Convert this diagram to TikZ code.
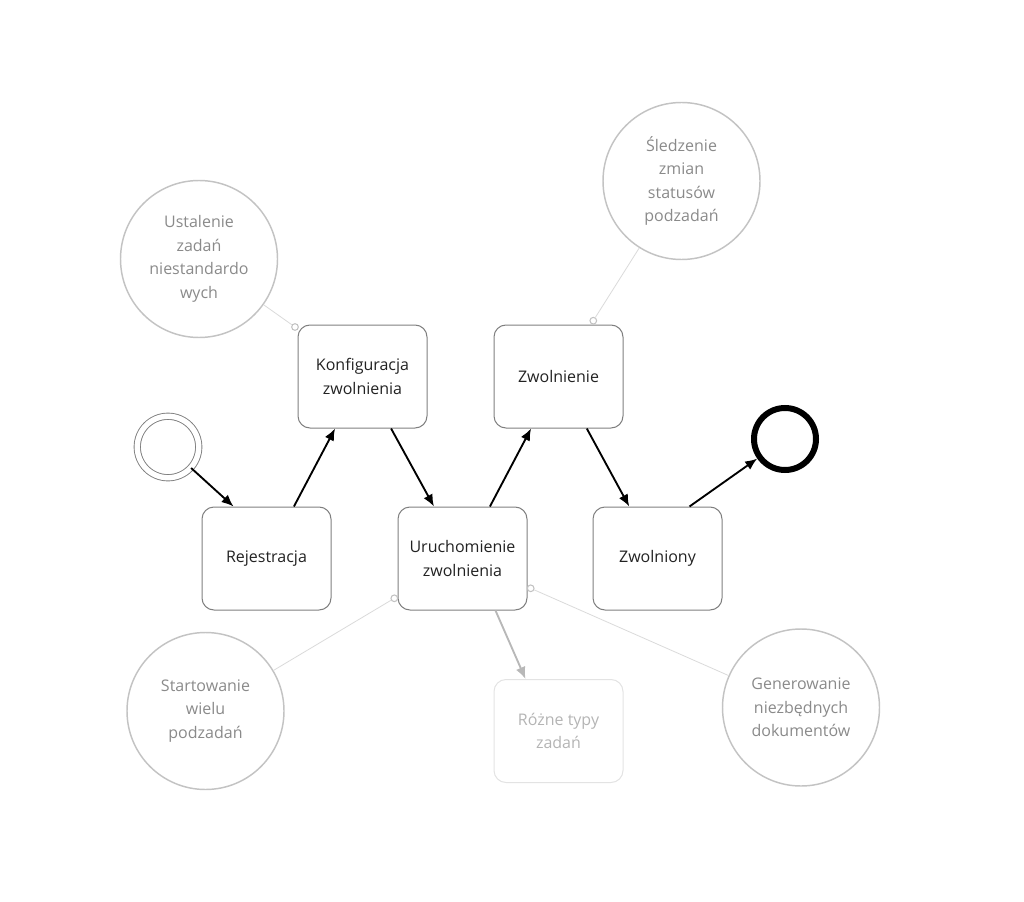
\documentclass[tikz,border=0pt]{standalone}
\usepackage{fontspec}
\setmainfont{Open Sans}
\usepackage{tikz}
\usetikzlibrary{arrows.meta}
\definecolor{tasktext}{HTML}{222222}
\definecolor{boxgray}{HTML}{7F7F7F}
\definecolor{notegray}{HTML}{C3C3C3}
\definecolor{notetext}{HTML}{8A8A8A}
\definecolor{linegray}{HTML}{DADADA}
\definecolor{ghostgray}{HTML}{E3E3E3}
\definecolor{ghosttext}{HTML}{B4B4B4}
\definecolor{ghostarrow}{HTML}{B8B8B8}
\tikzset{
    task/.style={draw=boxgray, line width=0.75pt, rounded corners=9pt, minimum width=96.75pt, minimum height=77.25pt, align=center, text=tasktext, font=\fontsize{12}{17.5}\selectfont},
    ghosttask/.style={task, draw=ghostgray, text=ghosttext},
    note/.style={circle, draw=notegray, line width=1.1pt, minimum size=117.75pt, inner sep=0pt, align=center, text=notetext, font=\fontsize{12}{17.6}\selectfont},
    notedot/.style={circle, draw=notegray, fill=white, line width=0.8pt, inner sep=0pt, minimum size=5pt},
    noteline/.style={draw=linegray, line width=0.6pt},
    flow/.style={-{Latex[length=9pt, width=7.5pt]}, line width=1.4pt},
    startevent/.style={circle, draw=boxgray, line width=0.7pt, double, double distance=4pt, minimum size=46.1pt, inner sep=0pt},
    endevent/.style={circle, draw=black, line width=4.5pt, minimum size=46.5pt, inner sep=0pt}
}

\begin{document}
\begin{tikzpicture}[x=0.75pt, y=-0.75pt]
    \useasboundingbox (0,0) rectangle (1024,902);

    % events
    \node[startevent] (start) at (168,447) {};
    \node[endevent] (stop) at (785,439) {};

    % tasks
    \node[task] (rej)   at (266.5,558.5) {Rejestracja};
    \node[task] (konf)  at (362.5,376.5) {Konfiguracja\\zwolnienia};
    \node[task] (uruch) at (462.5,558.5) {Uruchomienie\\zwolnienia};
    \node[task] (zwol)  at (558.5,376.5) {Zwolnienie};
    \node[task] (zwny)  at (657.5,558.5) {Zwolniony};
    \node[ghosttask] (typy) at (558.5,731) {Różne typy\\zadań};

    % sequence flow
    \draw[flow] (start) -- ([xshift=-24.75pt]rej.north);
    \draw[flow] (rej) -- (konf);
    \draw[flow] (konf) -- (uruch);
    \draw[flow] (uruch) -- (zwol);
    \draw[flow] (zwol) -- (zwny);
    \draw[flow] ([xshift=24pt]zwny.north) -- (stop);
    \draw[flow, draw=ghostarrow, fill=ghostarrow] ([xshift=24.75pt]uruch.south) -- ([xshift=-24.75pt]typy.north);

    % annotations
    \node[note] (ustal) at (199,259) {Ustalenie\\zadań\\niestandardo\\wych};
    \node[note] (sledz) at (681.5,181) {Śledzenie\\zmian\\statusów\\podzadań};
    \node[note] (start2) at (205.5,711) {Startowanie\\wielu\\podzadań};
    \node[note] (gener) at (801,707.5) {Generowanie\\niezbędnych\\dokumentów};

    \node[notedot] (d1) at (295,327) {};
    \node[notedot] (d2) at (593.3,320.7) {};
    \node[notedot] (d3) at (394.3,598.3) {};
    \node[notedot] (d4) at (530.7,588.3) {};

    \draw[noteline] (ustal) -- (d1);
    \draw[noteline] (sledz) -- (d2);
    \draw[noteline] (start2) -- (d3);
    \draw[noteline] (gener) -- (d4);
\end{tikzpicture}
\end{document}
